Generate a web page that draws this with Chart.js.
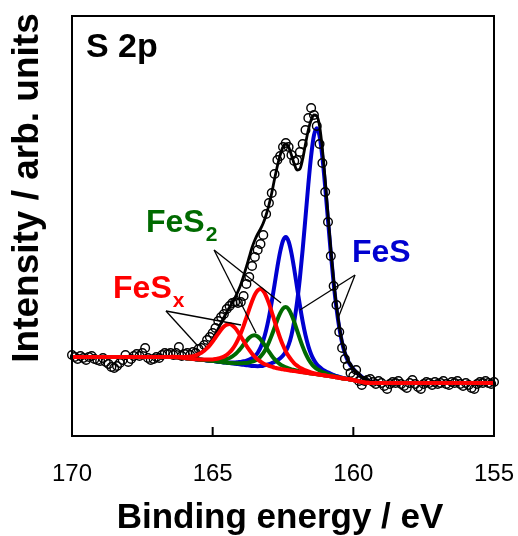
<!DOCTYPE html>
<html>
<head>
<meta charset="utf-8">
<script src="https://cdn.jsdelivr.net/npm/chart.js@4.4.1/dist/chart.umd.min.js"></script>
<style>
  html, body { margin: 0; padding: 0; background: #fff; }
  canvas { display: block; }
</style>
</head>
<body>
<canvas id="xpsChart" width="518" height="536"></canvas>
<script>
// S 2p spectrum: measured points (eV, counts in arb. units)
const energy = [
  170.0,169.9,169.8,169.7,169.6,169.5,169.4,169.3,169.2,169.1,
  169.0,168.9,168.8,168.7,168.6,168.5,168.4,168.3,168.2,168.1,
  168.0,167.9,167.8,167.7,167.6,167.5,167.4,167.3,167.2,167.1,
  167.0,166.9,166.8,166.7,166.6,166.5,166.4,166.3,166.2,166.1,
  166.0,165.9,165.8,165.7,165.6,165.5,165.4,165.3,165.2,165.1,
  165.0,164.9,164.8,164.7,164.6,164.5,164.4,164.3,164.2,164.1,
  164.0,163.9,163.8,163.7,163.6,163.5,163.4,163.3,163.2,163.1,
  163.0,162.9,162.8,162.7,162.6,162.5,162.4,162.3,162.2,162.1,
  162.0,161.9,161.8,161.7,161.6,161.5,161.4,161.3,161.2,161.1,
  161.0,160.9,160.8,160.7,160.6,160.5,160.4,160.3,160.2,160.1,
  160.0,159.9,159.8,159.7,159.6,159.5,159.4,159.3,159.2,159.1,
  159.0,158.9,158.8,158.7,158.6,158.5,158.4,158.3,158.2,158.1,
  158.0,157.9,157.8,157.7,157.6,157.5,157.4,157.3,157.2,157.1,
  157.0,156.9,156.8,156.7,156.6,156.5,156.4,156.3,156.2,156.1,
  156.0,155.9,155.8,155.7,155.6,155.5,155.4,155.3,155.2,155.1,
  155.0
];
const intensity = [
  81,79,77,80,78,76,79,80,77,76,
  75,78,74,72,69,68,70,73,76,81,
  74,77,80,82,80,83,88,78,76,77,
  79,78,81,83,82,83,81,83,89,80,
  82,83,81,84,83,87,88,91,96,99,
  103,108,115,119,122,127,130,133,134,133,
  134,140,152,159,170,179,186,192,201,222,
  233,243,262,276,280,289,293,289,281,275,
  276,284,292,306,318,328,321,310,292,273,
  244,214,180,150,131,104,88,77,70,63,
  60,66,55,51,55,56,57,54,52,55,
  53,50,47,52,54,53,55,52,50,48,
  53,56,52,49,47,52,54,53,51,54,
  52,53,55,52,51,54,53,55,52,50,
  53,51,48,47,52,54,53,55,53,52,
  54
];

// fit grid, background and fitted components (component = height above background)
const fitEnergy = [170.0,
  166.6,166.5,166.4,166.3,166.2,166.1,166.0,165.9,165.8,165.7,
  165.6,165.5,165.4,165.3,165.2,165.1,165.0,164.9,164.8,164.7,
  164.6,164.5,164.4,164.3,164.2,164.1,164.0,163.9,163.8,163.7,
  163.6,163.5,163.4,163.3,163.2,163.1,163.0,162.9,162.8,162.7,
  162.6,162.5,162.4,162.3,162.2,162.1,162.0,161.9,161.8,161.7,
  161.6,161.5,161.4,161.3,161.2,161.1,161.0,160.9,160.8,160.7,
  160.6,160.5,160.4,160.3,160.2,160.1,160.0,159.9,159.8,159.7,
  159.6,159.5,159.4,159.3,159.2,159.1,
  155.0];
const background = [79.0,
  79.0,79.0,79.0,78.8,78.5,78.2,77.9,77.6,77.3,77.0,
  76.8,76.5,76.2,75.9,75.6,75.3,75.0,74.7,74.3,74.0,
  73.6,73.3,72.9,72.6,72.2,71.9,71.5,71.2,70.8,70.5,
  70.1,69.8,69.4,69.1,68.7,68.4,68.0,67.7,67.3,67.0,
  66.6,66.3,65.9,65.6,65.2,64.9,64.5,64.1,63.7,63.3,
  62.9,62.5,62.1,61.7,61.3,60.9,60.5,60.1,59.6,59.2,
  58.7,58.3,57.8,57.4,56.9,56.5,56.0,55.3,54.6,54.0,
  53.5,53.2,53.0,53.0,53.0,53.0,
  53.0];
const envelope = [79.0,
  79.0,79.1,79.2,79.1,79.0,79.0,79.0,79.2,79.5,79.9,
  80.7,82.0,83.7,85.9,88.9,92.5,96.9,102.0,107.4,113.0,
  118.5,123.8,128.9,133.8,138.7,144.6,151.5,160.0,169.3,179.0,
  188.5,196.0,202.0,207.0,213.0,221.0,231.0,243.0,257.0,270.0,
  281.0,289.0,292.0,289.0,281.0,272.0,266.0,267.0,277.0,292.0,
  306.0,316.0,321.0,320.0,310.0,287.0,256.0,221.0,187.0,156.0,
  130.4,110.0,94.6,83.8,76.2,71.0,67.4,64.6,62.3,59.3,
  57.4,55.8,54.6,53.9,53.4,53.1,
  53.0];
const fesxHigh = [0,
  0,0.1,0.2,0.3,0.5,0.8,1.1,1.6,2.2,2.9,
  3.9,5.4,7.1,9.3,12.2,15.6,19.5,23.8,28.1,32.3,
  35.8,38.1,39,38.1,35.8,32.3,28.1,23.8,19.5,15.6,
  12.2,9.3,7.1,5.4,3.9,2.9,2.2,1.6,1.1,0.8,
  0.5,0.3,0.2,0.1,0,0,0,0,0,0,
  0,0,0,0,0,0,0,0,0,0,
  0,0,0,0,0,0,0,0,0,0,
  0,0,0,0,0,0,
  0];
const fesxLow = [0,
  0,0,0,0,0,0,0,0,0,0,
  0,0.1,0.3,0.5,0.8,1.1,1.6,2.3,3.2,4.3,
  5.8,7.8,10.7,14.2,18.7,24.4,31.2,39.0,47.6,56.3,
  64.6,71.5,76.2,78,76.2,71.5,64.6,56.3,47.6,39.0,
  31.2,24.4,18.7,14.2,10.7,7.8,5.8,4.3,3.2,2.3,
  1.6,1.1,0.8,0.5,0.3,0.1,0,0,0,0,
  0,0,0,0,0,0,0,0,0,0,
  0,0,0,0,0,0,
  0];
const fes2High = [0,
  0,0,0,0,0,0,0,0,0,0,
  0,0,0.1,0.2,0.3,0.5,0.8,1.1,1.5,2.0,
  2.7,3.7,5.1,7.0,9.5,12.6,16.3,20.2,24.2,27.7,
  30.1,31,30.1,27.7,24.2,20.2,16.3,12.6,9.5,7.0,
  5.1,3.7,2.7,2.0,1.5,1.1,0.8,0.5,0.3,0.2,
  0.1,0,0,0,0,0,0,0,0,0,
  0,0,0,0,0,0,0,0,0,0,
  0,0,0,0,0,0,
  0];
const fes2Low = [0,
  0,0,0,0,0,0,0,0,0,0,
  0,0,0,0,0,0,0,0,0,0,
  0,0,0,0.3,0.5,0.8,1.2,1.7,2.3,3.0,
  4.2,5.5,7.4,10.3,14.2,19.3,25.7,33.1,41.1,49.2,
  56.2,61.2,63,61.2,56.2,49.2,41.1,33.1,25.7,19.3,
  14.2,10.3,7.4,5.5,4.2,3.0,2.3,1.7,1.2,0.8,
  0.5,0.3,0,0,0,0,0,0,0,0,
  0,0,0,0,0,0,
  0];
const fesHigh = [0,
  0,0,0,0,0,0,0,0,0,0,
  0,0,0,0,0,0,0,0,0,0,
  0.1,0.3,0.6,0.9,1.3,1.9,2.6,3.5,4.5,5.8,
  7.6,10.1,13.8,19.3,27.0,37.4,50.7,66.5,84.1,101.9,
  117.7,128.9,133,128.9,117.7,101.9,84.1,66.5,50.7,37.4,
  27.0,19.3,13.8,10.1,7.6,5.8,4.5,3.5,2.6,1.9,
  1.3,0.9,0.6,0.3,0.1,0,0,0,0,0,
  0,0,0,0,0,0,
  0];
const fesLow = [0,
  0,0,0,0,0,0,0,0,0,0,
  0,0,0,0,0,0,0,0,0,0,
  0,0,0,0,0,0,0,0,0,0,
  0,0.1,0.4,0.9,1.6,2.6,3.8,5.2,6.8,8.6,
  11.1,14.1,18.7,25.5,35.6,49.9,69.2,93.7,123.0,155.5,
  188.4,217.7,238.5,246,238.5,217.7,188.4,155.5,123.0,93.7,
  69.2,49.9,35.6,25.5,18.7,14.1,11.1,8.6,6.8,5.2,
  3.8,2.6,1.6,0.9,0.4,0.1,
  0];

const xTicks = [170, 165, 160, 155];
const innerTicks = [165, 160];

const FONT = "'Liberation Sans', Arial, Helvetica, sans-serif";
const RED = '#ff0000';
const GREEN = '#006a00';
const BLUE = '#0000d0';

// peak labels and leader lines, anchored in data units [eV, intensity]
const peakLabels = [
  { text: 'FeS', sub: '2', color: GREEN, at: [167.37, 204] },
  { text: 'FeS', sub: 'x', color: RED, at: [168.54, 138] },
  { text: 'FeS', sub: '', color: BLUE, at: [160.05, 174] }
];
const leaders = [
  { from: [164.95, 186], to: [[163.46, 103], [162.57, 133]] },
  { from: [159.94, 161], to: [[161.90, 126], [160.54, 118]] },
  { from: [166.66, 125], to: [[163.99, 111], [165.56, 91]] }
];

Chart.defaults.font.family = FONT;

const withBackground = comp => fitEnergy.map((e, i) => ({ x: e, y: background[i] + comp[i] }));
const fitLine = (data, color, width) => ({
  data,
  showLine: true,
  borderColor: color,
  borderWidth: width,
  pointRadius: 0,
  cubicInterpolationMode: 'monotone',
  borderJoinStyle: 'round'
});

const overlay = {
  id: 'overlay',
  afterDatasetsDraw(chart) {
    const { ctx, chartArea: a, scales: { x, y } } = chart;
    const px = p => [x.getPixelForValue(p[0]), y.getPixelForValue(p[1])];
    ctx.save();

    // frame and inward ticks
    ctx.strokeStyle = '#000';
    ctx.lineWidth = 2;
    ctx.strokeRect(a.left, a.top, a.right - a.left, a.bottom - a.top);
    innerTicks.forEach(v => {
      const tx = x.getPixelForValue(v);
      ctx.beginPath();
      ctx.moveTo(tx, a.bottom);
      ctx.lineTo(tx, a.bottom - 9);
      ctx.stroke();
    });

    // leader lines
    ctx.lineWidth = 1.3;
    leaders.forEach(l => {
      const [fx, fy] = px(l.from);
      l.to.forEach(t => {
        const [tx, ty] = px(t);
        ctx.beginPath();
        ctx.moveTo(fx, fy);
        ctx.lineTo(tx, ty);
        ctx.stroke();
      });
    });

    // peak labels with subscripts
    ctx.textBaseline = 'alphabetic';
    ctx.textAlign = 'left';
    peakLabels.forEach(l => {
      const [lx, ly] = px(l.at);
      ctx.fillStyle = l.color;
      ctx.font = `bold 32px ${FONT}`;
      ctx.fillText(l.text, lx, ly);
      if (l.sub) {
        const w = ctx.measureText(l.text).width;
        ctx.font = `bold 21px ${FONT}`;
        ctx.fillText(l.sub, lx + w + 1, ly + 9);
      }
    });

    // panel tag
    ctx.fillStyle = '#000';
    ctx.font = `bold 34px ${FONT}`;
    ctx.fillText('S 2p', a.left + 14, a.top + 41);

    // axis titles
    ctx.font = `bold 35px ${FONT}`;
    ctx.textAlign = 'center';
    ctx.fillText('Binding energy / eV', (a.left + a.right) / 2 - 3, a.bottom + 92);
    ctx.font = `bold 37px ${FONT}`;
    ctx.translate(38, (a.top + a.bottom) / 2 - 38);
    ctx.rotate(-Math.PI / 2);
    ctx.fillText('Intensity / arb. units', 0, 0);

    ctx.restore();
  }
};

new Chart(document.getElementById('xpsChart'), {
  type: 'scatter',
  data: {
    datasets: [
      fitLine(withBackground(fesxHigh), RED, 4),
      fitLine(withBackground(fesxLow), RED, 4),
      {
        data: energy.map((e, i) => ({ x: e, y: intensity[i] })),
        showLine: false,
        pointStyle: 'circle',
        pointRadius: 4.3,
        pointBorderWidth: 1.4,
        pointBorderColor: '#000',
        pointBackgroundColor: 'rgba(0,0,0,0)',
        clip: false
      },
      fitLine(fitEnergy.map((e, i) => ({ x: e, y: envelope[i] })), '#000', 2.8),
      fitLine(withBackground(fes2High), GREEN, 4),
      fitLine(withBackground(fes2Low), GREEN, 4),
      fitLine(withBackground(fesHigh), BLUE, 4),
      fitLine(withBackground(fesLow), BLUE, 4)
    ]
  },
  options: {
    responsive: false,
    animation: false,
    events: [],
    layout: { padding: { top: 16, right: 24, bottom: 0, left: 0 } },
    plugins: { legend: { display: false }, tooltip: { enabled: false } },
    scales: {
      x: {
        type: 'linear',
        reverse: true,
        min: 155,
        max: 170,
        afterBuildTicks: s => { s.ticks = xTicks.map(v => ({ value: v })); },
        afterFit: s => { s.height = 100; s.paddingLeft = 0; s.paddingRight = 0; },
        grid: { display: false },
        border: { display: false },
        ticks: { color: '#000', font: { size: 24 }, padding: 16, maxRotation: 0, autoSkip: false }
      },
      y: {
        type: 'linear',
        min: 0,
        max: 420,
        afterFit: s => { s.width = 72; s.paddingTop = 0; s.paddingBottom = 0; },
        grid: { display: false },
        border: { display: false },
        ticks: { display: false }
      }
    }
  },
  plugins: [overlay]
});
</script>
</body>
</html>
